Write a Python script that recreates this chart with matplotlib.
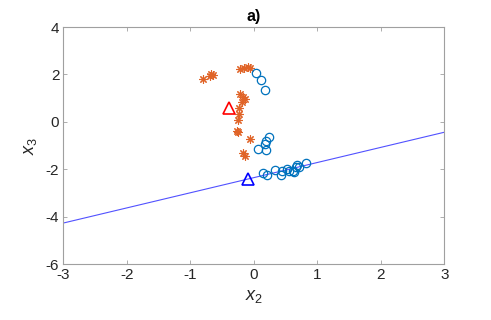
import matplotlib
matplotlib.use("Agg")
import matplotlib.pyplot as plt
import numpy as np

plt.rcParams['font.family'] = ['Liberation Sans', 'DejaVu Sans']
plt.rcParams['mathtext.fontset'] = 'custom'
plt.rcParams['mathtext.it'] = 'Liberation Sans:italic'
plt.rcParams['mathtext.rm'] = 'Liberation Sans'
plt.rcParams['axes.unicode_minus'] = False

# Class A (orange stars)
star_x = [-0.81, -0.67, -0.69, -0.65, -0.22, -0.15, -0.10, -0.06,
          -0.22, -0.17, -0.14, -0.19, -0.23, -0.235, -0.25, -0.27, -0.25,
          -0.06, -0.17, -0.14]
star_y = [1.80, 2.01, 1.95, 1.98, 2.23, 2.28, 2.30, 2.26,
          1.19, 1.05, 0.95, 0.85, 0.60, 0.34, 0.06, -0.40, -0.44,
          -0.71, -1.32, -1.46]

# Class B (blue circles)
circ_x = [0.04, 0.11, 0.175, 0.23, 0.19, 0.18, 0.07, 0.19,
          0.14, 0.21, 0.33, 0.42, 0.44, 0.52, 0.55, 0.62, 0.66, 0.68, 0.71, 0.82, 0.63]
circ_y = [2.06, 1.76, 1.33, -0.65, -0.82, -0.93, -1.14, -1.18,
          -2.14, -2.24, -2.03, -2.24, -2.06, -2.00, -2.06, -2.06, -1.89, -1.82, -1.92, -1.72, -2.12]

# Class means (triangles)
mean_a = (-0.40, 0.57)
mean_b = (-0.10, -2.41)

# Line
line_x = [-3, 3]
line_y = [-4.27, -0.44]

fig = plt.figure(figsize=(4.91, 3.20), dpi=100)
ax = fig.add_axes([0.1293, 0.175, 0.7757, 0.7406])

ax.plot(line_x, line_y, color='#3333ff', lw=0.8, alpha=0.85, zorder=1)
ax.plot(star_x, star_y, ls='none', marker=(8, 2, 0), color='#E06428',
        markersize=6, markeredgewidth=0.8, zorder=3)
ax.plot(circ_x, circ_y, ls='none', marker='o', markerfacecolor='none',
        markeredgecolor='#0072BD', markersize=6, markeredgewidth=0.9, zorder=3)
ax.plot([mean_a[0]], [mean_a[1]], ls='none', marker='^', markerfacecolor='none',
        markeredgecolor='red', markersize=9, markeredgewidth=1.2, zorder=4)
ax.plot([mean_b[0]], [mean_b[1]], ls='none', marker='^', markerfacecolor='none',
        markeredgecolor='blue', markersize=9, markeredgewidth=1.2, zorder=4)

ax.set_xlim(-3, 3)
ax.set_ylim(-6, 4)
ax.set_xticks([-3, -2, -1, 0, 1, 2, 3])
ax.set_yticks([-6, -4, -2, 0, 2, 4])
ax.tick_params(direction='in', top=True, right=True, labelsize=11,
               color='#a0a0a0', length=3, width=0.6, labelcolor='#262626', pad=3)
for s in ax.spines.values():
    s.set_color('#a0a0a0')
    s.set_linewidth(0.8)

ax.set_xlabel('$x_2$', fontsize=13, color='#262626', labelpad=4)
ax.set_ylabel('$x_3$', fontsize=13, color='#262626', labelpad=5)
ax.set_title('a)', fontsize=11.5, fontweight='bold', pad=4)

fig.savefig('out.png', dpi=100)
